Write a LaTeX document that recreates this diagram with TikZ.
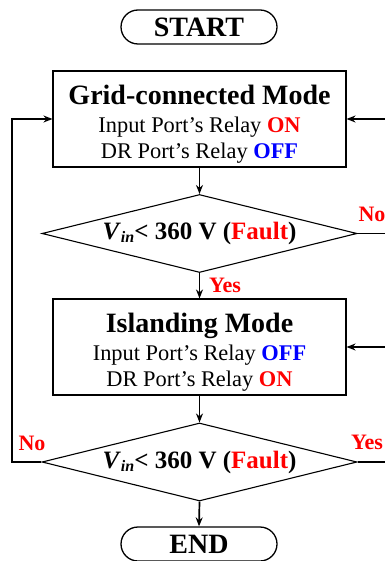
\documentclass[tikz,border=0pt]{standalone}
\usepackage{fontspec}
\setmainfont{Liberation Serif}
\usetikzlibrary{shapes.geometric,arrows.meta}
\definecolor{fred}{RGB}{255,0,0}
\definecolor{fblue}{RGB}{0,0,255}
\newcommand{\rd}[1]{\textcolor{fred}{\textbf{#1}}}
\newcommand{\bl}[1]{\textcolor{fblue}{\textbf{#1}}}
\newcommand{\vin}{\textbf{\textit{V}}\raisebox{-0.3ex}{\fontsize{16}{16}\selectfont\textbf{\textit{in}}}}
\begin{document}
\begin{tikzpicture}[x=1pt,y=-1pt,
  term/.style={draw,line width=1.3pt,rounded corners=17pt,minimum width=156pt,minimum height=34pt,inner sep=0pt,font=\fontsize{28}{30}\selectfont\bfseries},
  modebox/.style={draw,line width=1.1pt,minimum width=293pt,minimum height=96pt,inner sep=0pt},
  modetext/.style={align=center,inner sep=0pt,font=\fontsize{22.4}{27}\selectfont},
  decision/.style={draw,line width=1.1pt,diamond,aspect=4.1,minimum width=315pt,minimum height=78pt,inner sep=0pt,font=\fontsize{25}{27}\selectfont\bfseries},
  flow/.style={line width=1.7pt,-{Stealth[length=9pt,width=7pt]}},
  plain/.style={line width=1.6pt},
  lab/.style={text=fred,font=\fontsize{22}{22}\selectfont\bfseries,inner sep=0pt}]
\useasboundingbox (0,0) rectangle (384,561);
\node[term] (start) at (199,27) {START};
\node[modebox] (grid) at (199.5,119) {};
\node[modetext] (gridtxt) at (199.5,124) {{\fontsize{28}{30}\selectfont\bfseries Grid-connected Mode}\\[1pt]
 Input Port’s Relay \rd{ON}\\[-1.5pt] DR Port’s Relay \bl{OFF}};
\node[decision] (d1) at (199.5,233.5) {\vin< 360 V (\textcolor{fred}{Fault})};
\node[modebox] (isl) at (199.5,347) {};
\node[modetext] (isltxt) at (199.5,352) {{\fontsize{28}{30}\selectfont\bfseries Islanding Mode}\\[1pt]
 Input Port’s Relay \bl{OFF}\\[-1.5pt] DR Port’s Relay \rd{ON}};
\node[decision] (d2) at (199.5,462) {\vin< 360 V (\textcolor{fred}{Fault})};
\node[term] (end) at (199,544) {END};
\coordinate (lc) at (12,462);
\coordinate (lt) at (12,119);
\coordinate (r1) at (386,119);
\coordinate (r2) at (386,233.5);
\coordinate (r3) at (386,347);
\coordinate (r4) at (386,462);
\draw[flow] (grid.south) -- (d1.north);
\draw[flow] (d1.south) -- (isl.north);
\draw[flow] (isl.south) -- (d2.north);
\draw[flow] (d2.south) -- (end.north);
\draw[flow] (d2.west) -- (lc) -- (lt) -- (grid.west);
\draw[flow] (r1) -- (grid.east);
\draw[flow] (r3) -- (isl.east);
\draw[plain] (d1.east) -- (r2);
\draw[plain] (d2.east) -- (r4);
\node[lab] (yes1) at (225,285) {Yes};
\node[lab] (no1) at (372,214) {No};
\node[lab] (no2) at (32,443) {No};
\node[lab] (yes2) at (367,442) {Yes};
\end{tikzpicture}
\end{document}
